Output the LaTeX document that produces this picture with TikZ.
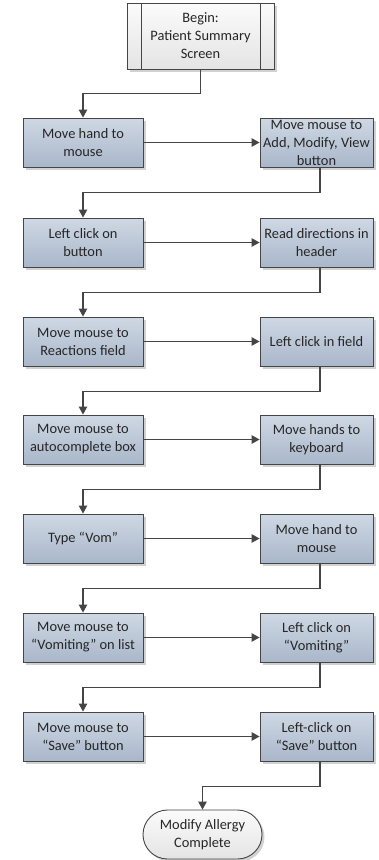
\documentclass[tikz,border=0pt]{standalone}
\usepackage{fontspec}
\setmainfont{Carlito}
\usetikzlibrary{arrows.meta,shapes.misc,shadows}
\definecolor{linec}{HTML}{454545}
\definecolor{boxtop}{HTML}{CFD8E4}
\definecolor{boxbot}{HTML}{A9B7CA}
\definecolor{wtop}{HTML}{FBFBFB}
\definecolor{wbot}{HTML}{E4E4E4}
\tikzset{
  txt/.style={font=\fontsize{14.4}{18}\selectfont, align=center, text=black!85},
  shad/.style={drop shadow={shadow xshift=2.5pt, shadow yshift=-2.5pt, fill=black, opacity=0.18}},
  proc/.style={txt, draw=linec, line width=0.9pt, top color=boxtop, bottom color=boxbot,
    minimum height=49pt, inner sep=0pt, shad},
  lbox/.style={proc, minimum width=120pt},
  rbox/.style={proc, minimum width=113pt},
  startbox/.style={txt, draw=linec, line width=0.9pt, top color=wtop, bottom color=wbot,
    minimum width=147pt, minimum height=66pt, inner sep=0pt, shad},
  endbox/.style={txt, rounded rectangle, draw=linec, line width=0.9pt, top color=wtop, bottom color=wbot,
    minimum width=119pt, minimum height=49pt, inner sep=0pt, shad},
  conn/.style={draw=linec, line width=1.1pt, -{Triangle[length=8pt,width=8.5pt]}},
}
\begin{document}
\begin{tikzpicture}[x=1pt,y=-1pt]
\useasboundingbox (0,0) rectangle (378,860);
\node[startbox] (begin) at (200.5,36) {Begin:\\Patient Summary\\Screen};
\draw[linec, line width=0.9pt] ([xshift=15pt]begin.north west) -- ([xshift=15pt]begin.south west);
\draw[linec, line width=0.9pt] ([xshift=-14pt]begin.north east) -- ([xshift=-14pt]begin.south east);

\node[lbox] (l1) at (83,142.5) {Move hand to\\mouse};
\node[rbox] (r1) at (316.5,142.5) {Move mouse to\\Add, Modify, View\\button};
\node[lbox] (l2) at (83,242.5) {Left click on\\button};
\node[rbox] (r2) at (316.5,242.5) {Read directions in\\header};
\node[lbox] (l3) at (83,341.5) {Move mouse to\\Reactions field};
\node[rbox] (r3) at (316.5,341.5) {Left click in field};
\node[lbox] (l4) at (83,439.5) {Move mouse to\\autocomplete box};
\node[rbox] (r4) at (316.5,439.5) {Move hands to\\keyboard};
\node[lbox] (l5) at (83,538.5) {Type “Vom”};
\node[rbox] (r5) at (316.5,538.5) {Move hand to\\mouse};
\node[lbox] (l6) at (83,637.5) {Move mouse to\\“Vomiting” on list};
\node[rbox] (r6) at (316.5,637.5) {Left click on\\“Vomiting”};
\node[lbox] (l7) at (83,736.5) {Move mouse to\\“Save” button};
\node[rbox] (r7) at (316.5,736.5) {Left-click on\\“Save” button};
\node[endbox] (end) at (202.5,834.5) {Modify Allergy\\Complete};

\draw[conn] (begin.south) -- ++(0,24) -| (l1.north);
\foreach \i in {1,...,7} {
  \draw[conn] (l\i.east) -- (r\i.west);
}
\foreach \i/\j in {1/2,2/3,3/4,4/5,5/6,6/7} {
  \draw[conn] ([xshift=3.5pt]r\i.south) -- ++(0,25) -| (l\j.north);
}
\draw[conn] ([xshift=3.5pt]r7.south) -- ++(0,25) -| (end.north);
\end{tikzpicture}
\end{document}
